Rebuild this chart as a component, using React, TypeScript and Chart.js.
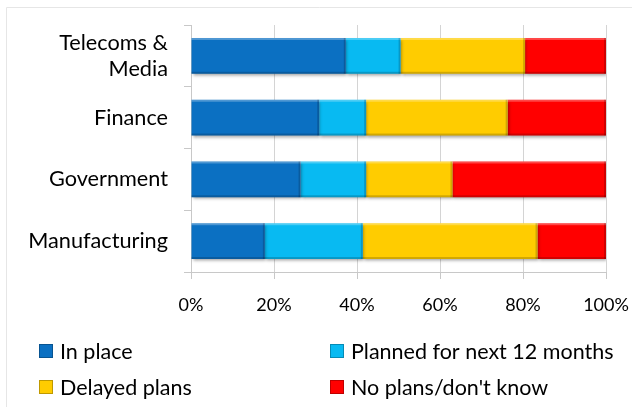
import { useEffect, useRef } from "react";
import { Chart, registerables } from "chart.js";
Chart.register(...registerables);

const categories: (string | string[])[] = [["Telecoms &", "Media"], "Finance", "Government", "Manufacturing"];
const seriesNames = ["In place", "Planned for next 12 months", "Delayed plans", "No plans/don't know"];
const inPlace = [37.3, 30.9, 26.4, 17.8];
const planned = [13.2, 11.3, 15.8, 23.6];
const delayed = [30.0, 34.1, 20.8, 42.1];
const noPlans = [19.5, 23.7, 37.0, 16.5];
const xTicks = [0, 20, 40, 60, 80, 100];
const colors = ["#0B70C2", "#08BAF2", "#FFCC00", "#FF0000"];

const FONT = "Lato, 'Open Sans', sans-serif";

export default function App() {
  const ref = useRef<HTMLCanvasElement | null>(null);
  useEffect(() => {
    document.body.style.margin = "0";
    const canvas = ref.current;
    if (!canvas) return;
    const seriesValues = [inPlace, planned, delayed, noPlans];

    const framePlugin = {
      id: "frame",
      beforeDraw(chart: any) {
        const ctx = chart.ctx;
        ctx.save();
        ctx.fillStyle = "#ffffff";
        ctx.fillRect(0, 0, chart.width, chart.height);
        ctx.strokeStyle = "#e6e6e6";
        ctx.lineWidth = 1;
        ctx.beginPath();
        ctx.moveTo(6.5, chart.height);
        ctx.lineTo(6.5, 7.5);
        ctx.lineTo(chart.width, 7.5);
        ctx.stroke();
        ctx.restore();
      },
    };

    const shadowPlugin = {
      id: "barShadow",
      beforeDatasetsDraw(chart: any) {
        const ctx = chart.ctx;
        ctx.save();
        ctx.shadowColor = "rgba(0,0,0,0.35)";
        ctx.shadowBlur = 3;
        ctx.shadowOffsetY = 2;
        ctx.shadowOffsetX = 1;
      },
      afterDatasetsDraw(chart: any) {
        const ctx = chart.ctx;
        ctx.restore();
        // bevel highlights on each segment
        ctx.save();
        chart.data.datasets.forEach((_: any, di: number) => {
          const meta = chart.getDatasetMeta(di);
          meta.data.forEach((bar: any) => {
            const { x, y, base, height } = bar.getProps(["x", "y", "base", "height"], true);
            const left = Math.min(x, base);
            const right = Math.max(x, base);
            const top = y - height / 2;
            const bottom = y + height / 2;
            ctx.fillStyle = "rgba(255,255,255,0.28)";
            ctx.fillRect(left, top, right - left, 2);
            ctx.fillStyle = "rgba(0,0,0,0.18)";
            ctx.fillRect(left, bottom - 2, right - left, 2);
            ctx.fillRect(right - 2, top, 2, bottom - top);
          });
        });
        ctx.restore();
      },
    };

    const legendPlugin = {
      id: "gridLegend",
      afterDraw(chart: any) {
        const ctx = chart.ctx;
        ctx.save();
        ctx.font = `21.5px ${FONT}`;
        ctx.textBaseline = "middle";
        ctx.textAlign = "left";
        const colX = [39, 330];
        const rowY = [351, 387];
        seriesNames.forEach((name, i) => {
          const x = colX[i % 2];
          const y = rowY[Math.floor(i / 2)];
          ctx.fillStyle = colors[i];
          ctx.fillRect(x, y - 7, 14, 14);
          ctx.strokeStyle = "rgba(0,0,0,0.25)";
          ctx.lineWidth = 1;
          ctx.strokeRect(x + 0.5, y - 6.5, 13, 13);
          ctx.fillStyle = "#000000";
          ctx.fillText(name, x + 21, y + 1);
        });
        ctx.restore();
      },
    };

    const chart = new Chart(canvas, {
      type: "bar",
      data: {
        labels: categories,
        datasets: seriesNames.map((name, i) => ({
          label: name,
          data: seriesValues[i],
          backgroundColor: colors[i],
          borderWidth: 0,
          barPercentage: 0.58,
          categoryPercentage: 1,
        })),
      },
      options: {
        indexAxis: "y",
        animation: false,
        responsive: false,
        maintainAspectRatio: false,
        layout: { padding: { top: 25, right: 26, left: 0, bottom: 0 } },
        plugins: {
          legend: { display: false },
          tooltip: { enabled: false },
          title: { display: false },
        },
        scales: {
          x: {
            stacked: true,
            min: 0,
            max: 100,
            afterFit(scale: any) {
              scale.height = 135;
              scale.paddingLeft = 0;
              scale.paddingRight = 0;
            },
            afterBuildTicks(scale: any) {
              scale.ticks = xTicks.map((v) => ({ value: v }));
            },
            ticks: {
              callback: (v: any) => `${v}%`,
              font: { family: FONT, size: 18 },
              color: "#000000",
              padding: 15,
              maxRotation: 0,
            },
            grid: {
              color: "#d4d4d4",
              tickColor: "#c8c8c8",
              tickLength: 7,
              lineWidth: 1,
            },
            border: { color: "#c8c8c8" },
          },
          y: {
            stacked: true,
            afterFit(scale: any) {
              scale.width = 191;
              scale.paddingTop = 0;
              scale.paddingBottom = 0;
            },
            ticks: {
              font: { family: FONT, size: 21.7 },
              color: "#000000",
              padding: 16,
            },
            grid: {
              drawOnChartArea: false,
              offset: true,
              tickLength: 7,
              tickColor: "#c8c8c8",
            },
            border: { color: "#c8c8c8" },
          },
        },
      },
      plugins: [framePlugin, shadowPlugin, legendPlugin],
    });
    return () => chart.destroy();
  }, []);

  return (
    <div style={{ width: 632, height: 407 }}>
      <canvas ref={ref} width={632} height={407} style={{ display: "block" }} />
    </div>
  );
}
